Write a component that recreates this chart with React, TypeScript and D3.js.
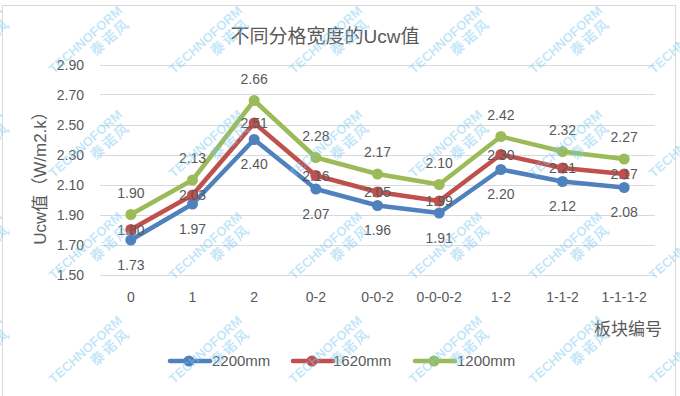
import React from "react";
import * as d3 from "d3";

const categories = ["0", "1", "2", "0-2", "0-0-2", "0-0-0-2", "1-2", "1-1-2", "1-1-1-2"];
const s2200 = [1.73, 1.97, 2.40, 2.07, 1.96, 1.91, 2.20, 2.12, 2.08];
const s1620 = [1.80, 2.03, 2.51, 2.16, 2.05, 1.99, 2.30, 2.21, 2.17];
const s1200 = [1.90, 2.13, 2.66, 2.28, 2.17, 2.10, 2.42, 2.32, 2.27];
const yTicks = [1.5, 1.7, 1.9, 2.1, 2.3, 2.5, 2.7, 2.9];
const seriesNames = ["2200mm", "1620mm", "1200mm"];
const title = "不同分格宽度的Ucw值";
const yTitle = "Ucw值（W/m2.k）";
const xTitle = "板块编号";

const W = 680;
const H = 396;
const FONT = "'Liberation Sans', Arial, 'Noto Sans CJK SC', sans-serif";
const TXT = "#595959";

export default function App() {
  React.useEffect(() => {
    document.body.style.margin = "0";
  }, []);

  const x = d3.scaleBand<string>().domain(categories).range([100, 655]).padding(0);
  const y = d3.scaleLinear().domain([1.5, 2.9]).range([274.5, 64.5]);
  const cx = (c: string) => (x(c) as number) + x.bandwidth() / 2;

  const series = [
    { name: seriesNames[0], values: s2200, color: "#4F81BD", dy: 29.5 },
    { name: seriesNames[1], values: s1620, color: "#C0504D", dy: 5 },
    { name: seriesNames[2], values: s1200, color: "#9BBB59", dy: -17 },
  ];

  const line = d3
    .line<number>()
    .x((_, i) => cx(categories[i]))
    .y((v) => y(v));

  const legendItems = [
    { lx: 170, tx: 212 },
    { lx: 293, tx: 333 },
    { lx: 415, tx: 457 },
  ];

  const wmCols = [-34, 86, 206, 326, 446, 566, 686];
  const wmRows = [40, 144, 246, 350];

  return (
    <svg
      width={W}
      height={H}
      style={{ position: "fixed", left: 0, top: 0, background: "#fff" }}
      fontFamily={FONT}
    >
      <rect x={0} y={0} width={W} height={H} fill="#fff" />
      <rect x={2.5} y={5.5} width={673} height={400} fill="#fff" stroke="#d9d9d9" strokeWidth={1} />

      <text x={325} y={43} textAnchor="middle" fontSize={19} fill={TXT}>
        {title}
      </text>

      {yTicks.map((t) => (
        <g key={t}>
          <line x1={100} x2={655} y1={Math.round(y(t)) + 0.5} y2={Math.round(y(t)) + 0.5} stroke="#d9d9d9" strokeWidth={1} />
          <text x={84} y={y(t) + 5} textAnchor="end" fontSize={14} fill={TXT}>
            {t.toFixed(2)}
          </text>
        </g>
      ))}

      {categories.map((c) => (
        <text key={c} x={cx(c)} y={302} textAnchor="middle" fontSize={14} fill={TXT}>
          {c}
        </text>
      ))}

      <text
        transform={`translate(46,174) rotate(-90)`}
        textAnchor="middle"
        fontSize={17}
        fill={TXT}
      >
        {yTitle}
      </text>

      <text x={628} y={335} textAnchor="middle" fontSize={17} fill={TXT}>
        {xTitle}
      </text>

      {series.map((s) => (
        <g key={s.name}>
          <path d={line(s.values) || ""} fill="none" stroke={s.color} strokeWidth={4.5} strokeLinejoin="round" strokeLinecap="round" />
          {s.values.map((v, i) => (
            <circle key={i} cx={cx(categories[i])} cy={y(v)} r={5.5} fill={s.color} />
          ))}
        </g>
      ))}

      {series.map((s) => (
        <g key={s.name + "l"}>
          {s.values.map((v, i) => (
            <text key={i} x={cx(categories[i])} y={y(v) + s.dy} textAnchor="middle" fontSize={14} fill={TXT}>
              {v.toFixed(2)}
            </text>
          ))}
        </g>
      ))}

      {series.map((s, i) => (
        <g key={s.name + "lg"}>
          <line x1={legendItems[i].lx} x2={legendItems[i].lx + 40} y1={361} y2={361} stroke={s.color} strokeWidth={4.5} strokeLinecap="round" />
          <circle cx={legendItems[i].lx + 19} cy={361} r={5.5} fill={s.color} />
          <text x={legendItems[i].tx} y={366} fontSize={15} fill={TXT}>
            {s.name}
          </text>
        </g>
      ))}

      <g fill="#7cc8ee" opacity={0.45} fontFamily="'Liberation Sans', 'Noto Sans CJK SC', sans-serif" fontWeight="bold">
        {wmRows.map((ry) =>
          wmCols.map((rx) => (
            <g key={`${rx}-${ry}`} transform={`translate(${rx},${ry}) rotate(-42)`}>
              <text x={0} y={4} textAnchor="middle" fontSize={13}>
                TECHNOFORM
              </text>
              <text x={20} y={19} textAnchor="middle" fontSize={14} letterSpacing={2}>
                泰诺风
              </text>
            </g>
          ))
        )}
      </g>
    </svg>
  );
}
